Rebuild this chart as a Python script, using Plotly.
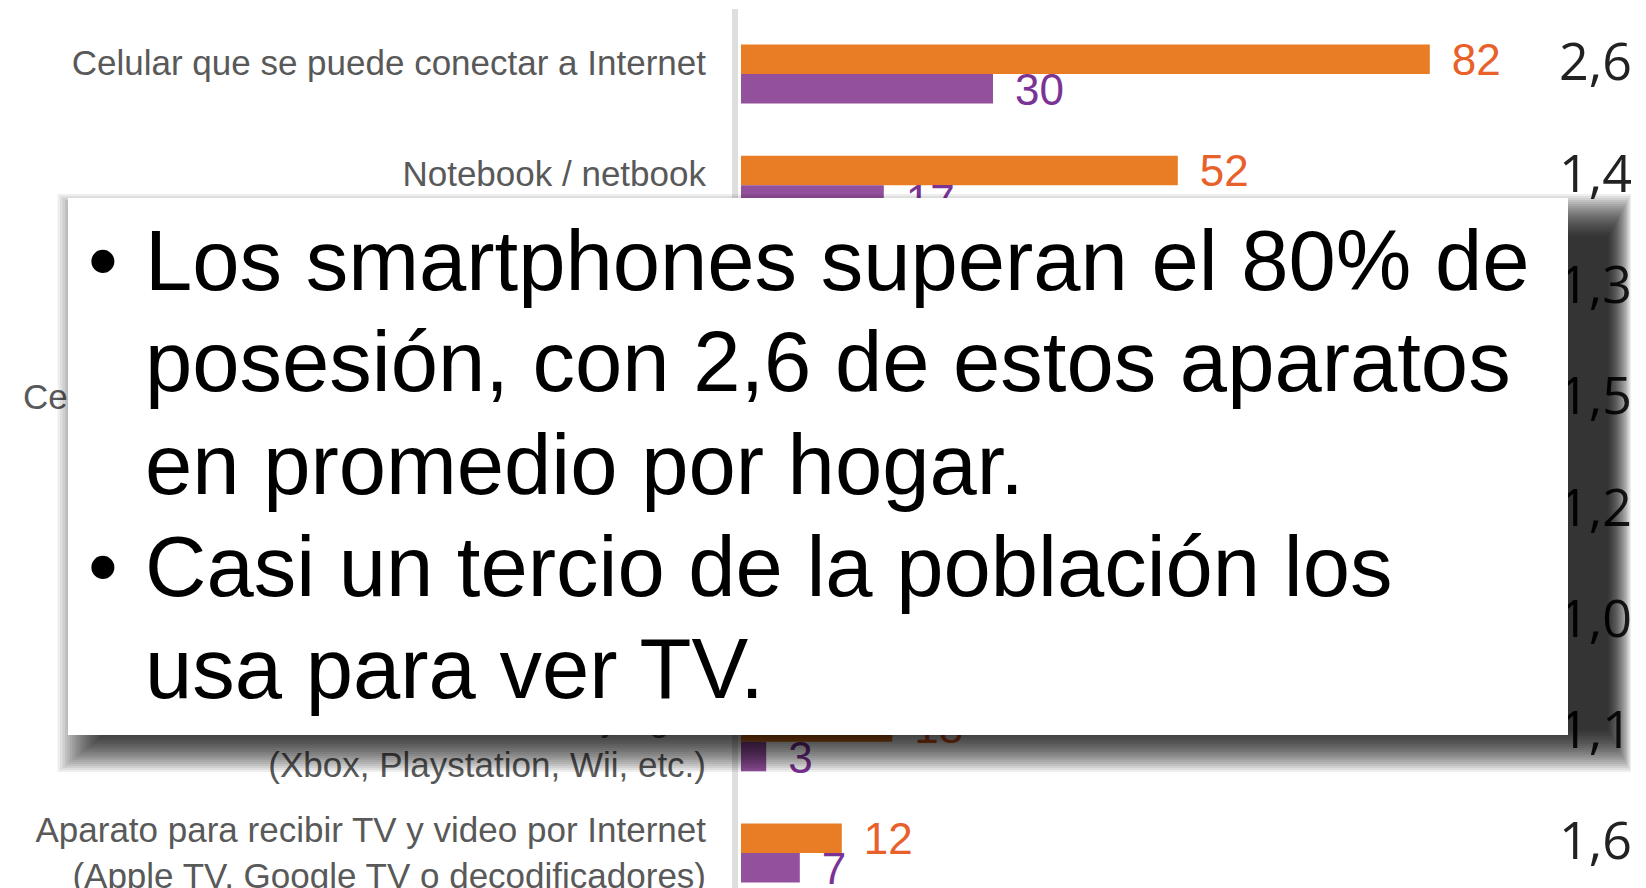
import plotly.graph_objects as go

# ---------------- data ----------------
categories = [
    "Celular que se puede conectar a Internet",
    "Notebook / netbook",
    "Tablet",
    "Celular que no se puede conectar a Internet",
    "Computadora de escritorio",
    "Smart TV",
    "Consola de videojuegos<br>(Xbox, Playstation, Wii, etc.)",
    "Aparato para recibir TV y video por Internet<br>(Apple TV, Google TV o decodificadores)",
]
posesion = [82, 52, 38, 45, 40, 20, 18, 12]      # orange series
uso_tv = [30, 17, 14, 6, 12, 10, 3, 7]            # purple series
promedio = ["2,6", "1,4", "1,3", "1,5", "1,2", "1,0", "1,1", "1,6"]

bullets = [
    ("•", "Los smartphones superan el 80% de"),
    ("", "posesión, con 2,6 de estos aparatos"),
    ("", "en promedio por hogar."),
    ("•", "Casi un tercio de la población los"),
    ("", "usa para ver TV."),
]

# ---------------- layout constants ----------------
W, H = 1646, 888
X0_PX, PX_PER_UNIT = 741, 8.4          # x=0 at pixel 741
ROW0_PX, ROW_PX = 74, 111.3            # row centre pixels

ORANGE, PURPLE = "#E87D25", "#93509C"
ORANGE_TXT, PURPLE_TXT = "#E8602A", "#7B3495"
LAB_FONT = "Liberation Sans, Arial, sans-serif"

idx = list(range(len(categories)))
BW = 0.265

fig = go.Figure()
fig.add_trace(go.Bar(y=idx, x=posesion, orientation="h", width=BW, offset=-BW,
                     marker=dict(color=ORANGE, line=dict(width=0)), hoverinfo="skip"))
fig.add_trace(go.Bar(y=idx, x=uso_tv, orientation="h", width=BW, offset=0,
                     marker=dict(color=PURPLE, line=dict(width=0)), hoverinfo="skip"))

gap = 22 / PX_PER_UNIT
fig.add_trace(go.Scatter(x=[v + gap for v in posesion], y=[i - 0.09 for i in idx],
                         mode="text", text=[str(v) for v in posesion], textposition="middle right",
                         textfont=dict(family=LAB_FONT, size=44, color=ORANGE_TXT),
                         hoverinfo="skip", cliponaxis=False))
fig.add_trace(go.Scatter(x=[v + gap for v in uso_tv], y=[i + 0.18 for i in idx],
                         mode="text", text=[str(v) for v in uso_tv], textposition="middle right",
                         textfont=dict(family=LAB_FONT, size=44, color=PURPLE_TXT),
                         hoverinfo="skip", cliponaxis=False))

# category labels
lab_x = (706 - X0_PX) / PX_PER_UNIT
fig.add_trace(go.Scatter(x=[lab_x] * len(idx),
                         y=[i - (0.07 if "<br>" not in c else -0.03) for i, c in zip(idx, categories)],
                         mode="text", text=categories, textposition="middle left",
                         textfont=dict(family=LAB_FONT, size=35, color="#595959"),
                         hoverinfo="skip", cliponaxis=False))
# averages column
avg_x = (1632 - X0_PX) / PX_PER_UNIT
fig.add_trace(go.Scatter(x=[avg_x] * len(idx), y=[i - 0.06 for i in idx],
                         mode="text", text=promedio, textposition="middle left",
                         textfont=dict(family="Open Sans, sans-serif", size=52, color="#222222"),
                         hoverinfo="skip", cliponaxis=False))


def px(x):
    return x / W


def py(y):
    return 1 - y / H


shapes = []
# vertical axis line
shapes.append(dict(type="line", xref="paper", yref="paper", x0=px(735), x1=px(735),
                   y0=py(9), y1=py(H), line=dict(color="#DEDEDE", width=6), layer="below"))
# soft shadow built from stacked translucent rectangles
NL = 22
for k in range(NL):
    shapes.append(dict(type="rect", xref="paper", yref="paper",
                       x0=px(110 - 2.5 * k), x1=px(1608 + 1.1 * k),
                       y0=py(730 + 2.0 * k), y1=py(236 - 2.0 * k),
                       fillcolor="#000000", opacity=0.065, line=dict(width=0), layer="above"))
# white text box
shapes.append(dict(type="rect", xref="paper", yref="paper",
                   x0=px(68), x1=px(1568), y0=py(735), y1=py(198),
                   fillcolor="#FFFFFF", line=dict(width=0), layer="above"))

annotations = []
LINE0, LINE_STEP = 260, 102
TXT_FONT = dict(family="Liberation Sans, Arial, sans-serif", size=85, color="#000000")
for n, (b, t) in enumerate(bullets):
    yc = LINE0 + n * LINE_STEP
    if b:
        annotations.append(dict(text=b, xref="paper", yref="paper", x=px(86), y=py(yc),
                                xanchor="left", yanchor="middle", showarrow=False, font=TXT_FONT))
    annotations.append(dict(text=t, xref="paper", yref="paper", x=px(143), y=py(yc),
                            xanchor="left", yanchor="middle", showarrow=False, font=TXT_FONT))

fig.update_layout(
    width=W, height=H, margin=dict(l=0, r=0, t=0, b=0),
    paper_bgcolor="#FFFFFF", plot_bgcolor="#FFFFFF",
    barmode="overlay", showlegend=False,
    xaxis=dict(domain=[0, 1], range=[-X0_PX / PX_PER_UNIT, (W - X0_PX) / PX_PER_UNIT],
               visible=False, fixedrange=True),
    yaxis=dict(domain=[0, 1],
               range=[(H - ROW0_PX) / ROW_PX, -ROW0_PX / ROW_PX],
               visible=False, fixedrange=True),
    shapes=shapes, annotations=annotations,
)

fig.write_html("out.html", config={"displayModeBar": False},
               post_script="document.body.style.margin='0';document.body.style.overflow='hidden';")
